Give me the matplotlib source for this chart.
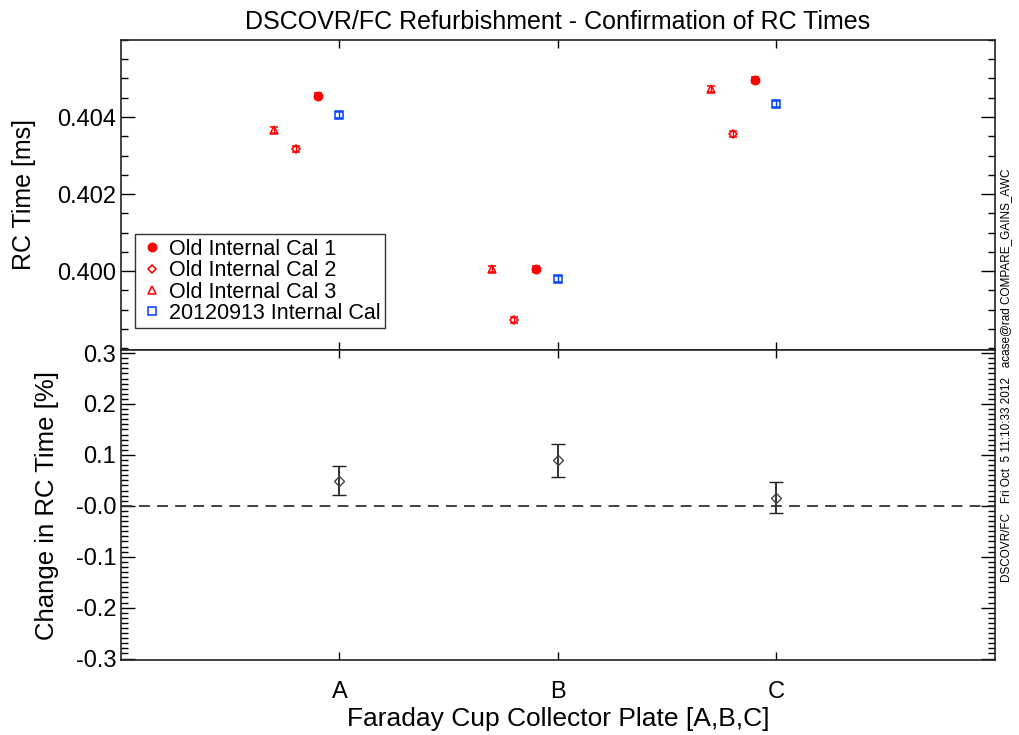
import matplotlib
matplotlib.use("Agg")
import matplotlib.pyplot as plt
from matplotlib.ticker import MultipleLocator
import numpy as np

plt.rcParams["font.family"] = ["Liberation Sans", "DejaVu Sans"]

# ---------------------------------------------------------------------------
# Data
# ---------------------------------------------------------------------------
plates = ["A", "B", "C"]
plate_pos = np.array([1, 2, 3])

# RC times [ms] per calibration, plates A, B, C
cal1 = [0.40455, 0.40005, 0.40496]
cal2 = [0.40317, 0.39873, 0.40356]
cal3 = [0.40366, 0.40005, 0.40473]
new_cal = [0.40405, 0.39979, 0.40434]
rc_err = [0.00007, 0.00007, 0.00007]

# change in RC time [%]
change = [0.049, 0.089, 0.016]
change_err = [0.0285, 0.032, 0.031]

series = [
    ("Old Internal Cal 1", cal1, -0.1, "o", "#ff0000", True, 6),
    ("Old Internal Cal 2", cal2, -0.2, "D", "#ff0000", False, 4.5),
    ("Old Internal Cal 3", cal3, -0.3, "^", "#ff0000", False, 6),
    ("20120913 Internal Cal", new_cal, 0.0, "s", "#0040ff", False, 6),
]

fig = plt.figure(figsize=(10.19, 7.35), dpi=100)
ax1 = fig.add_axes([0.1187, 0.5238, 0.8577, 0.4218])
ax2 = fig.add_axes([0.1187, 0.102, 0.8577, 0.4218])

for label, vals, dx, mk, col, filled, ms in series:
    ax1.errorbar(plate_pos + dx, vals, yerr=rc_err, fmt=mk, color=col,
                 mfc=col if filled else "none", mec=col, ms=ms, mew=1.1,
                 ecolor=col, elinewidth=1.0, capsize=3, label=label)

ax1.set_xlim(0, 4)
ax1.set_ylim(0.39795, 0.406)
ax1.set_yticks([0.400, 0.402, 0.404])
ax1.set_yticklabels(["0.400", "0.402", "0.404"])
ax1.yaxis.set_minor_locator(MultipleLocator(0.0005))
ax1.set_xticks(plate_pos)
ax1.set_xticklabels([])
ax1.set_ylabel("RC Time [ms]", fontsize=18, labelpad=15)
ax1.set_title("DSCOVR/FC Refurbishment - Confirmation of RC Times",
              fontsize=18, pad=8)

handles, labels = ax1.get_legend_handles_labels()
handles = [h[0] for h in handles]
leg = ax1.legend(handles, labels, loc="upper left", bbox_to_anchor=(0.016, 0.373),
                 fontsize=15.5, frameon=True, fancybox=False, edgecolor="black",
                 borderpad=0.2, labelspacing=0.02, handletextpad=0.2,
                 handlelength=1.2, borderaxespad=0)
leg.get_frame().set_linewidth(1.0)

ax2.errorbar(plate_pos, change, yerr=change_err, fmt="D", color="#333333",
             mfc="none", mec="#444444", ms=5, mew=1.0, ecolor="#222222",
             elinewidth=1.3, capsize=5)
ax2.axhline(0.0, color="#333333", linestyle=(0, (6, 4)), linewidth=1.3)
ax2.set_xlim(0, 4)
ax2.set_ylim(-0.303, 0.306)
ax2.set_yticks([-0.3, -0.2, -0.1, 0.0, 0.1, 0.2, 0.3])
ax2.set_yticklabels(["-0.3", "-0.2", "-0.1", "-0.0", "0.1", "0.2", "0.3"])
ax2.yaxis.set_minor_locator(MultipleLocator(0.01))
ax2.set_xticks(plate_pos)
ax2.set_xticklabels(plates)
ax2.set_ylabel("Change in RC Time [%]", fontsize=18.5, labelpad=12)
ax2.set_xlabel("Faraday Cup Collector Plate [A,B,C]", fontsize=19, labelpad=3)

for ax in (ax1, ax2):
    ax.tick_params(which="both", direction="in", top=True, right=True,
                   labelsize=17, colors="black")
    ax.tick_params(which="major", length=10, width=1.0)
    ax.tick_params(which="minor", length=5, width=1.0)
    ax.tick_params(axis="x", which="major", length=6, pad=15)
    for sp in ax.spines.values():
        sp.set_linewidth(1.2)
        sp.set_color("#222222")

fig.text(0.987, 0.49,
         "DSCOVR/FC   Fri Oct  5 11:10:33 2012   acase@rad COMPARE_GAINS_AWC",
         rotation=90, fontsize=8.5, ha="center", va="center")

fig.savefig("out.png", dpi=100)
